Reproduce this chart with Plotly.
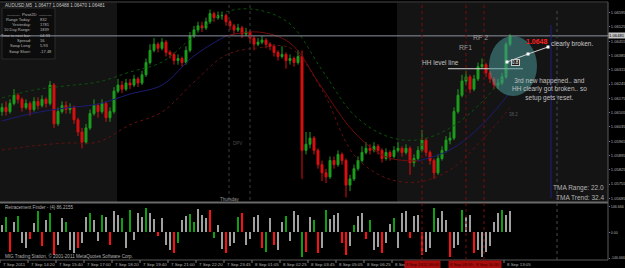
import plotly.graph_objects as go

# ------------------------------------------------------------------ data
bar_index = list(range(128))

open_ = [1.0611,1.0613,1.0611,1.0615,1.0619,1.0617,1.0613,1.0615,1.0612,1.0616,
         1.0614,1.0617,1.0615,1.0624,1.0605,1.0611,1.0614,1.0612,1.0613,1.0607,
         1.0601,1.0596,1.0603,1.0610,1.0614,1.0611,1.0615,1.0608,1.0611,1.0621,
         1.0624,1.0622,1.0625,1.0624,1.0627,1.0625,1.0629,1.0635,1.0641,1.0644,
         1.0642,1.0645,1.0640,1.0639,1.0636,1.0637,1.0635,1.0641,1.0648,1.0651,
         1.0653,1.0652,1.0655,1.0659,1.0657,1.0658,1.0658,1.0655,1.0653,1.0651,
         1.0652,1.0649,1.0650,1.0647,1.0644,1.0645,1.0646,1.0644,1.0643,1.0640,
         1.0638,1.0639,1.0636,1.0637,1.0635,1.0638,1.0592,1.0595,1.0598,1.0592,
         1.0585,1.0581,1.0579,1.0587,1.0585,1.0590,1.0587,1.0575,1.0578,1.0583,
         1.0587,1.0591,1.0593,1.0592,1.0594,1.0592,1.0588,1.0591,1.0589,1.0592,
         1.0593,1.0591,1.0593,1.0586,1.0588,1.0592,1.0597,1.0591,1.0587,1.0581,
         1.0588,1.0592,1.0597,1.0598,1.0611,1.0619,1.0626,1.0628,1.0622,1.0627,
         1.0633,1.0634,1.0630,1.0627,1.0624,1.0625,1.0628,1.0644]

high = [1.0615,1.0616,1.0617,1.0622,1.0620,1.0618,1.0617,1.0616,1.0618,1.0618,
        1.0619,1.0618,1.0626,1.0625,1.0613,1.0616,1.0616,1.0615,1.0614,1.0608,
        1.0603,1.0605,1.0612,1.0617,1.0615,1.0617,1.0616,1.0613,1.0623,1.0627,
        1.0626,1.0627,1.0627,1.0629,1.0628,1.0631,1.0637,1.0644,1.0647,1.0645,
        1.0647,1.0646,1.0641,1.0640,1.0639,1.0638,1.0643,1.0650,1.0653,1.0655,
        1.0655,1.0657,1.0661,1.0660,1.0660,1.0660,1.0659,1.0656,1.0654,1.0654,
        1.0653,1.0652,1.0651,1.0648,1.0647,1.0648,1.0647,1.0645,1.0644,1.0641,
        1.0643,1.0640,1.0639,1.0638,1.0641,1.0641,1.0601,1.0601,1.0599,1.0593,
        1.0587,1.0583,1.0589,1.0589,1.0592,1.0591,1.0588,1.0580,1.0585,1.0589,
        1.0594,1.0596,1.0595,1.0596,1.0595,1.0593,1.0593,1.0592,1.0594,1.0596,
        1.0594,1.0595,1.0594,1.0590,1.0594,1.0602,1.0598,1.0592,1.0588,1.0590,
        1.0594,1.0599,1.0601,1.0613,1.0622,1.0629,1.0631,1.0629,1.0629,1.0635,
        1.0637,1.0635,1.0631,1.0628,1.0627,1.0630,1.0645,1.0649]

low = [1.0609,1.0609,1.0610,1.0614,1.0615,1.0611,1.0612,1.0609,1.0611,1.0612,
       1.0613,1.0613,1.0614,1.0603,1.0604,1.0610,1.0610,1.0610,1.0605,1.0599,
       1.0593,1.0595,1.0602,1.0609,1.0608,1.0610,1.0606,1.0606,1.0610,1.0620,
       1.0620,1.0621,1.0622,1.0623,1.0623,1.0624,1.0628,1.0634,1.0640,1.0640,
       1.0641,1.0638,1.0637,1.0634,1.0634,1.0633,1.0634,1.0640,1.0647,1.0650,
       1.0650,1.0651,1.0654,1.0655,1.0656,1.0656,1.0653,1.0651,1.0649,1.0650,
       1.0647,1.0648,1.0645,1.0641,1.0643,1.0644,1.0642,1.0641,1.0638,1.0636,
       1.0637,1.0632,1.0634,1.0633,1.0634,1.0578,1.0590,1.0593,1.0590,1.0583,
       1.0577,1.0576,1.0578,1.0583,1.0584,1.0585,1.0569,1.0572,1.0577,1.0582,
       1.0586,1.0590,1.0590,1.0591,1.0590,1.0586,1.0587,1.0587,1.0588,1.0591,
       1.0589,1.0590,1.0580,1.0584,1.0587,1.0591,1.0589,1.0585,1.0578,1.0580,
       1.0587,1.0591,1.0595,1.0597,1.0610,1.0618,1.0624,1.0620,1.0621,1.0626,
       1.0632,1.0628,1.0625,1.0622,1.0622,1.0624,1.0627,1.0643]

close = [1.0613,1.0611,1.0615,1.0619,1.0617,1.0613,1.0615,1.0612,1.0616,1.0614,
         1.0617,1.0615,1.0624,1.0605,1.0611,1.0614,1.0612,1.0613,1.0607,1.0601,
         1.0596,1.0603,1.0610,1.0614,1.0611,1.0615,1.0608,1.0611,1.0621,1.0624,
         1.0622,1.0625,1.0624,1.0627,1.0625,1.0629,1.0635,1.0641,1.0644,1.0642,
         1.0645,1.0640,1.0639,1.0636,1.0637,1.0635,1.0641,1.0648,1.0651,1.0653,
         1.0652,1.0655,1.0659,1.0657,1.0658,1.0658,1.0655,1.0653,1.0651,1.0652,
         1.0649,1.0650,1.0647,1.0644,1.0645,1.0646,1.0644,1.0643,1.0640,1.0638,
         1.0639,1.0636,1.0637,1.0635,1.0638,1.0592,1.0595,1.0598,1.0592,1.0585,
         1.0581,1.0579,1.0587,1.0585,1.0590,1.0587,1.0575,1.0578,1.0583,1.0587,
         1.0591,1.0593,1.0592,1.0594,1.0592,1.0588,1.0591,1.0589,1.0592,1.0593,
         1.0591,1.0593,1.0586,1.0588,1.0592,1.0597,1.0591,1.0587,1.0581,1.0588,
         1.0592,1.0597,1.0598,1.0611,1.0619,1.0626,1.0628,1.0622,1.0627,1.0633,
         1.0634,1.0630,1.0627,1.0624,1.0625,1.0628,1.0644,1.0648]

# TMA centre line and bands (sampled every 8 bars)
tma_idx = [0, 8, 16, 24, 32, 40, 48, 56, 64, 72, 80, 88, 96, 104, 112, 120, 127]
tma_mid = [1.06064, 1.06103, 1.06128, 1.06147, 1.06196, 1.06240, 1.06383, 1.06481, 1.06500,
           1.06446, 1.06226, 1.06010, 1.05888, 1.05868, 1.05922, 1.06045, 1.06206]
tma_up = [1.06177, 1.06216, 1.06236, 1.06255, 1.06304, 1.06353, 1.06481, 1.06598, 1.06608,
          1.06539, 1.06314, 1.06094, 1.05991, 1.05971, 1.06030, 1.06157, 1.06324]
tma_lo = [1.05922, 1.05942, 1.05956, 1.05961, 1.06045, 1.06108, 1.06255, 1.06387, 1.06422,
          1.06422, 1.06216, 1.05898, 1.05785, 1.05765, 1.05824, 1.05971, 1.06128]

# Retracement Finder histogram (value, colour class g/r/n)
hist_vals = [40, 90, -110, 60, 95, -60, -90, -40, 55, 120,
             -80, 70, 110, -130, -70, 80, 60, -100, -120, -90,
             -60, 90, 110, 70, -50, 100, 85, -70, 120, 100,
             80, -90, 130, -45, 110, 90, 140, 110, 75, -20,
             80, -70, -100, -120, -60, 70, 95, 105, 60, 135,
             100, 80, 125, -30, 40, -95, -120, -80, -60, 85,
             110, -70, -40, 90, 100, -90, -110, 80, -75, -100,
             60, 95, -50, 120, 100, -140, -110, 90, 70, -120,
             -90, 130, 75, 100, 110, -60, -130, -80, 40, 95,
             110, -40, 70, -100, -85, -120, -60, 50, 80, -90,
             110, 120, -30, 95, 100, -130, -110, -90, 140, 80,
             120, 70, -140, -90, -70, 130, 90, 100, -120, -100,
             -140, -110, -80, 60, 110, 130, 100, 120]
hist_cls = list("ngrngnnrng"
                "rngrnngnnr"
                "nngnngnrnn"
                "gngnnngnnr"
                "nnnrgnngg"
                "n"
                "nnrgnnrnng"
                "rnnnnrgnrn"
                "ngnnngrngr"
                "ngnnnrrngn"
                "nrgnnrnngn"
                "nnrnnrnngn"
                "nnrnngnnrn"
                "nnnnngnnnn")

price_ticks = [1.06595, 1.06525, 1.06455, 1.06385, 1.06315, 1.06245, 1.06175,
               1.06105, 1.06035, 1.05965, 1.05895, 1.05825, 1.05755, 1.05685]
osc_ticks = [146.666, 0.0, -146.666]
osc_tick_text = ["146.666", "0.00", "-146.666"]

time_labels = ["7 Sep 2011", "7 Sep 14:20", "7 Sep 15:40", "7 Sep 17:00", "7 Sep 18:20",
               "7 Sep 19:40", "7 Sep 21:00", "7 Sep 22:20", "7 Sep 23:45", "8 Sep 01:05",
               "8 Sep 02:25", "8 Sep 03:45", "8 Sep 05:05", "8 Sep 06:25", "8 Sep"]
last_time_label = "8 Sep 13:05"
marker_bars = [105, 116, 120.5]
marker_box_texts = ["8 Sep 2011 09:00", "8 Sep 09:55 \u00b7 8 Sep 10:30"]
marker_box_pos = [105, 118.25]

current_price = 1.06481
hh_level = 1.0632
ohlc_title = "AUDUSD,M5  1.06477 1.06488 1.06470 1.06481"
info_rows = [("Range Today:", "832"), ("Yesterday:", "1781"), ("10 Day Range:", "1839"),
             ("Time to next bar:", "04:33"), ("Spread:", "16"), ("Swap Long:", "5.93"),
             ("Swap Short:", "-17.48")]

# ------------------------------------------------------------------ layout helpers
W, H, PW = 625, 268, 608
FONT = "Liberation Sans"


def px(x):
    return x / PW


def py(y):
    return 1 - y / H


MAIN_DOM = [py(202), py(3)]
OSC_DOM = [py(260), py(204)]
XR = [-0.5, 151.5]

fig = go.Figure()

fig.add_trace(go.Candlestick(
    x=bar_index, open=open_, high=high, low=low, close=close,
    increasing=dict(line=dict(color="#1c9e1c", width=1), fillcolor="#1c9e1c"),
    decreasing=dict(line=dict(color="#d81010", width=1), fillcolor="#d81010"),
    whiskerwidth=0, hoverinfo="skip", showlegend=False, xaxis="x", yaxis="y"))

fig.add_trace(go.Scatter(x=tma_idx, y=tma_up, mode="lines", line_shape="spline",
                         line=dict(color="#0a520a", width=1, dash="dot"),
                         hoverinfo="skip", showlegend=False))
fig.add_trace(go.Scatter(x=tma_idx, y=tma_lo, mode="lines", line_shape="spline",
                         line=dict(color="#621010", width=1, dash="dot"),
                         hoverinfo="skip", showlegend=False))
for a, b, col in [(0, 8, "#1c1c74"), (7, 14, "#720c0c"), (13, 17, "#1c1c74")]:
    fig.add_trace(go.Scatter(x=tma_idx[a:b], y=tma_mid[a:b], mode="lines", line_shape="spline",
                             line=dict(color=col, width=1), hoverinfo="skip", showlegend=False))

cmap = {"g": "#12a012", "r": "#ff1010", "n": "#a0a0a0"}
fig.add_trace(go.Bar(x=bar_index, y=hist_vals, marker=dict(color=[cmap[c] for c in hist_cls], line_width=0),
                     width=0.4, xaxis="x2", yaxis="y2", hoverinfo="skip", showlegend=False))

shapes = []
# shaded session backgrounds
for x0, x1 in [(0, 117), (397, PW)]:
    shapes.append(dict(type="rect", xref="paper", yref="paper", x0=px(x0), x1=px(x1),
                       y0=MAIN_DOM[0], y1=MAIN_DOM[1], fillcolor="#141414", line_width=0, layer="below"))
# info box
shapes.append(dict(type="rect", xref="paper", yref="paper", x0=px(2), x1=px(55), y0=py(59), y1=py(8),
                   fillcolor="#0c0c0c", line=dict(color="#2a2a2a", width=1), layer="below"))
# panel borders
shapes += [
    dict(type="line", xref="paper", yref="paper", x0=0, x1=1, y0=py(2), y1=py(2), line=dict(color="#4a4a4a", width=1)),
    dict(type="line", xref="paper", yref="paper", x0=0, x1=1, y0=py(202.5), y1=py(202.5), line=dict(color="#6a6a6a", width=2)),
    dict(type="line", xref="paper", yref="paper", x0=0, x1=1, y0=py(260), y1=py(260), line=dict(color="#5a5a5a", width=1)),
    dict(type="line", xref="paper", yref="paper", x0=1, x1=1, y0=py(260), y1=py(2), line=dict(color="#5a5a5a", width=1)),
]
# current price line
shapes.append(dict(type="line", xref="paper", yref="y", x0=0, x1=1, y0=current_price, y1=current_price,
                   line=dict(color="#8a92a0", width=1)))
# session dotted verticals
for xb in [56.75, 62]:
    shapes.append(dict(type="line", xref="x", yref="paper", x0=xb, x1=xb, y0=py(200), y1=py(4),
                       line=dict(color="#3c3c3c", width=1, dash="dot")))
# red dotted verticals
for xb in marker_bars:
    shapes.append(dict(type="line", xref="x", yref="paper", x0=xb, x1=xb, y0=OSC_DOM[0], y1=MAIN_DOM[1],
                       line=dict(color="#7a0c0c", width=1, dash="dot")))
# navy vertical + gray dotted vertical
shapes.append(dict(type="line", xref="x", yref="paper", x0=137.25, x1=137.25, y0=py(198), y1=py(25),
                   line=dict(color="#1c1c80", width=1)))
shapes.append(dict(type="line", xref="x", yref="paper", x0=138.75, x1=138.75, y0=py(260), y1=py(10),
                   line=dict(color="#4a4a4a", width=1, dash="dot")))
# HH level line
shapes.append(dict(type="line", xref="x", yref="y", x0=111.5, x1=130.25, y0=hh_level, y1=hh_level,
                   line=dict(color="#d8d8d8", width=1)))
# teal circle
shapes.append(dict(type="circle", xref="paper", yref="paper", x0=px(489), x1=px(537), y0=py(96), y1=py(36),
                   fillcolor="rgba(72,150,150,0.55)", line_width=0))
# arrow polyline + nodes
pts = [(507, 62), (528, 54), (548, 47)]
path = "M " + " L ".join(f"{px(a)},{py(b)}" for a, b in pts)
shapes.append(dict(type="path", xref="paper", yref="paper", path=path, line=dict(color="#d0d0d0", width=1)))
for a, b in pts:
    shapes.append(dict(type="rect", xref="paper", yref="paper", x0=px(a - 1.5), x1=px(a + 1.5),
                       y0=py(b + 1.5), y1=py(b - 1.5), fillcolor="#ffffff", line_width=0))
# time ticks
for k in list(range(len(time_labels))) + [18]:
    xb = 7 * k - 0.5
    shapes.append(dict(type="line", xref="x", yref="paper", x0=xb, x1=xb, y0=py(263), y1=py(260),
                       line=dict(color="#7a7a7a", width=1)))

ann = []


def T(text, x, y, size=5, color="#b8b8b8", xa="left", ya="middle", **kw):
    ann.append(dict(text=text, x=px(x), y=py(y), xref="paper", yref="paper", showarrow=False,
                    xanchor=xa, yanchor=ya, font=dict(family=FONT, size=size, color=color), **kw))


T(ohlc_title, 3, 5, size=4.6, color="#c8c8c8")
T("\u2014\u2014\u2014  Pivot2D  \u2014\u2014\u2014", 29, 14, size=4.2, xa="center")
for j, (lab, val) in enumerate(info_rows):
    yy = 19.5 + j * 5.25
    T(lab, 33, yy, size=4, xa="right")
    T(val, 38, yy, size=4)

T("RF 2", 480, 37, size=7, color="#9a9a9a", xa="center")
T("RF1", 465, 47, size=7, color="#9a9a9a", xa="center")
T("HH level line", 440, 63, size=6.5, color="#c0c0c0", xa="center")
T("<b>1.0648</b>", 537, 41, size=7, color="#ff2020", xa="center")
T("clearly broken.", 572, 44, size=6.5, color="#c8c8c8", xa="center")
T("3rd new happened.. and<br>HH clearly got broken.. so<br>setup gets reset.", 549, 90,
  size=6.5, color="#c0c0c0", xa="center", align="center")
T("0.8", 515, 62, size=4.5, color="#ffffff", xa="center", bgcolor="#1a1a1a", bordercolor="#c8c8c8",
  borderwidth=1, borderpad=0)
T("38.2", 513, 114, size=4.5, color="#5a5a5a", xa="center")
T("Thursday", 230, 199, size=4.5, color="#9a9a9a", xa="center")
T("DPV", 237, 143, size=4.5, color="#4a4a4a", xa="center")
T("TMA Range: 22.0", 606, 188, size=6.5, color="#b4b4b4", xa="right")
T("TMA Trend: 32.4", 606, 197, size=6.5, color="#b4b4b4", xa="right")
T("Retracement Finder - (4) 86.2155", 3, 207.5, size=4.6, color="#b0b0b0")
T("MIG Trading Station, \u00a9 2001-2011 MetaQuotes Software Corp.", 3, 256, size=4.6, color="#b0b0b0")

# current price box on the axis
ann.append(dict(text="1.06481", x=1, y=current_price, xref="paper", yref="y", showarrow=False,
                xanchor="left", yanchor="middle", bgcolor="#c4c4c4", borderpad=0,
                font=dict(family=FONT, size=4.2, color="#000000")))

# time axis labels
tfont = dict(family=FONT, size=4.4, color="#b0b0b0")
for k, lab in enumerate(time_labels):
    ann.append(dict(text=lab, x=7 * k - 0.3, y=py(264), xref="x", yref="paper", showarrow=False,
                    xanchor="left", yanchor="middle", font=tfont))
ann.append(dict(text=last_time_label, x=7 * 18 - 0.3, y=py(264), xref="x", yref="paper", showarrow=False,
                xanchor="left", yanchor="middle", font=tfont))
for xb, lab in zip(marker_box_pos, marker_box_texts):
    ann.append(dict(text=lab, x=xb, y=py(264), xref="x", yref="paper", showarrow=False,
                    xanchor="center", yanchor="middle", bgcolor="#a80c0c", borderpad=1,
                    font=dict(family=FONT, size=4.2, color="#3a0000")))

axis_font = dict(family=FONT, size=4.1, color="#b0b0b0")
fig.update_layout(
    template="none",
    width=W, height=H,
    margin=dict(l=0, r=W - PW, t=0, b=0, pad=0),
    paper_bgcolor="#000000", plot_bgcolor="#000000",
    showlegend=False, hovermode=False, bargap=0,
    xaxis=dict(domain=[0, 1], range=XR, anchor="y", showticklabels=False, showgrid=False,
               zeroline=False, showline=False, ticks="", rangeslider=dict(visible=False), fixedrange=True),
    yaxis=dict(domain=MAIN_DOM, range=[1.05667, 1.06642], side="right", anchor="x",
               tickvals=price_ticks, ticktext=[f"{v:.5f}" for v in price_ticks],
               ticks="outside", ticklen=1, tickcolor="#7a7a7a", tickfont=axis_font,
               showgrid=False, zeroline=False, showline=False, automargin=False),
    xaxis2=dict(domain=[0, 1], range=XR, anchor="y2", matches="x", showticklabels=False,
                showgrid=False, zeroline=False, showline=False, ticks=""),
    yaxis2=dict(domain=OSC_DOM, range=[-158.1, 162.1], side="right", anchor="x2",
                tickvals=osc_ticks, ticktext=osc_tick_text, ticks="outside", ticklen=1,
                tickcolor="#7a7a7a", tickfont=dict(family=FONT, size=3.6, color="#b0b0b0"),
                showgrid=False, zeroline=False, showline=False, automargin=False),
    shapes=shapes, annotations=ann,
)

fig.write_html("out.html")
